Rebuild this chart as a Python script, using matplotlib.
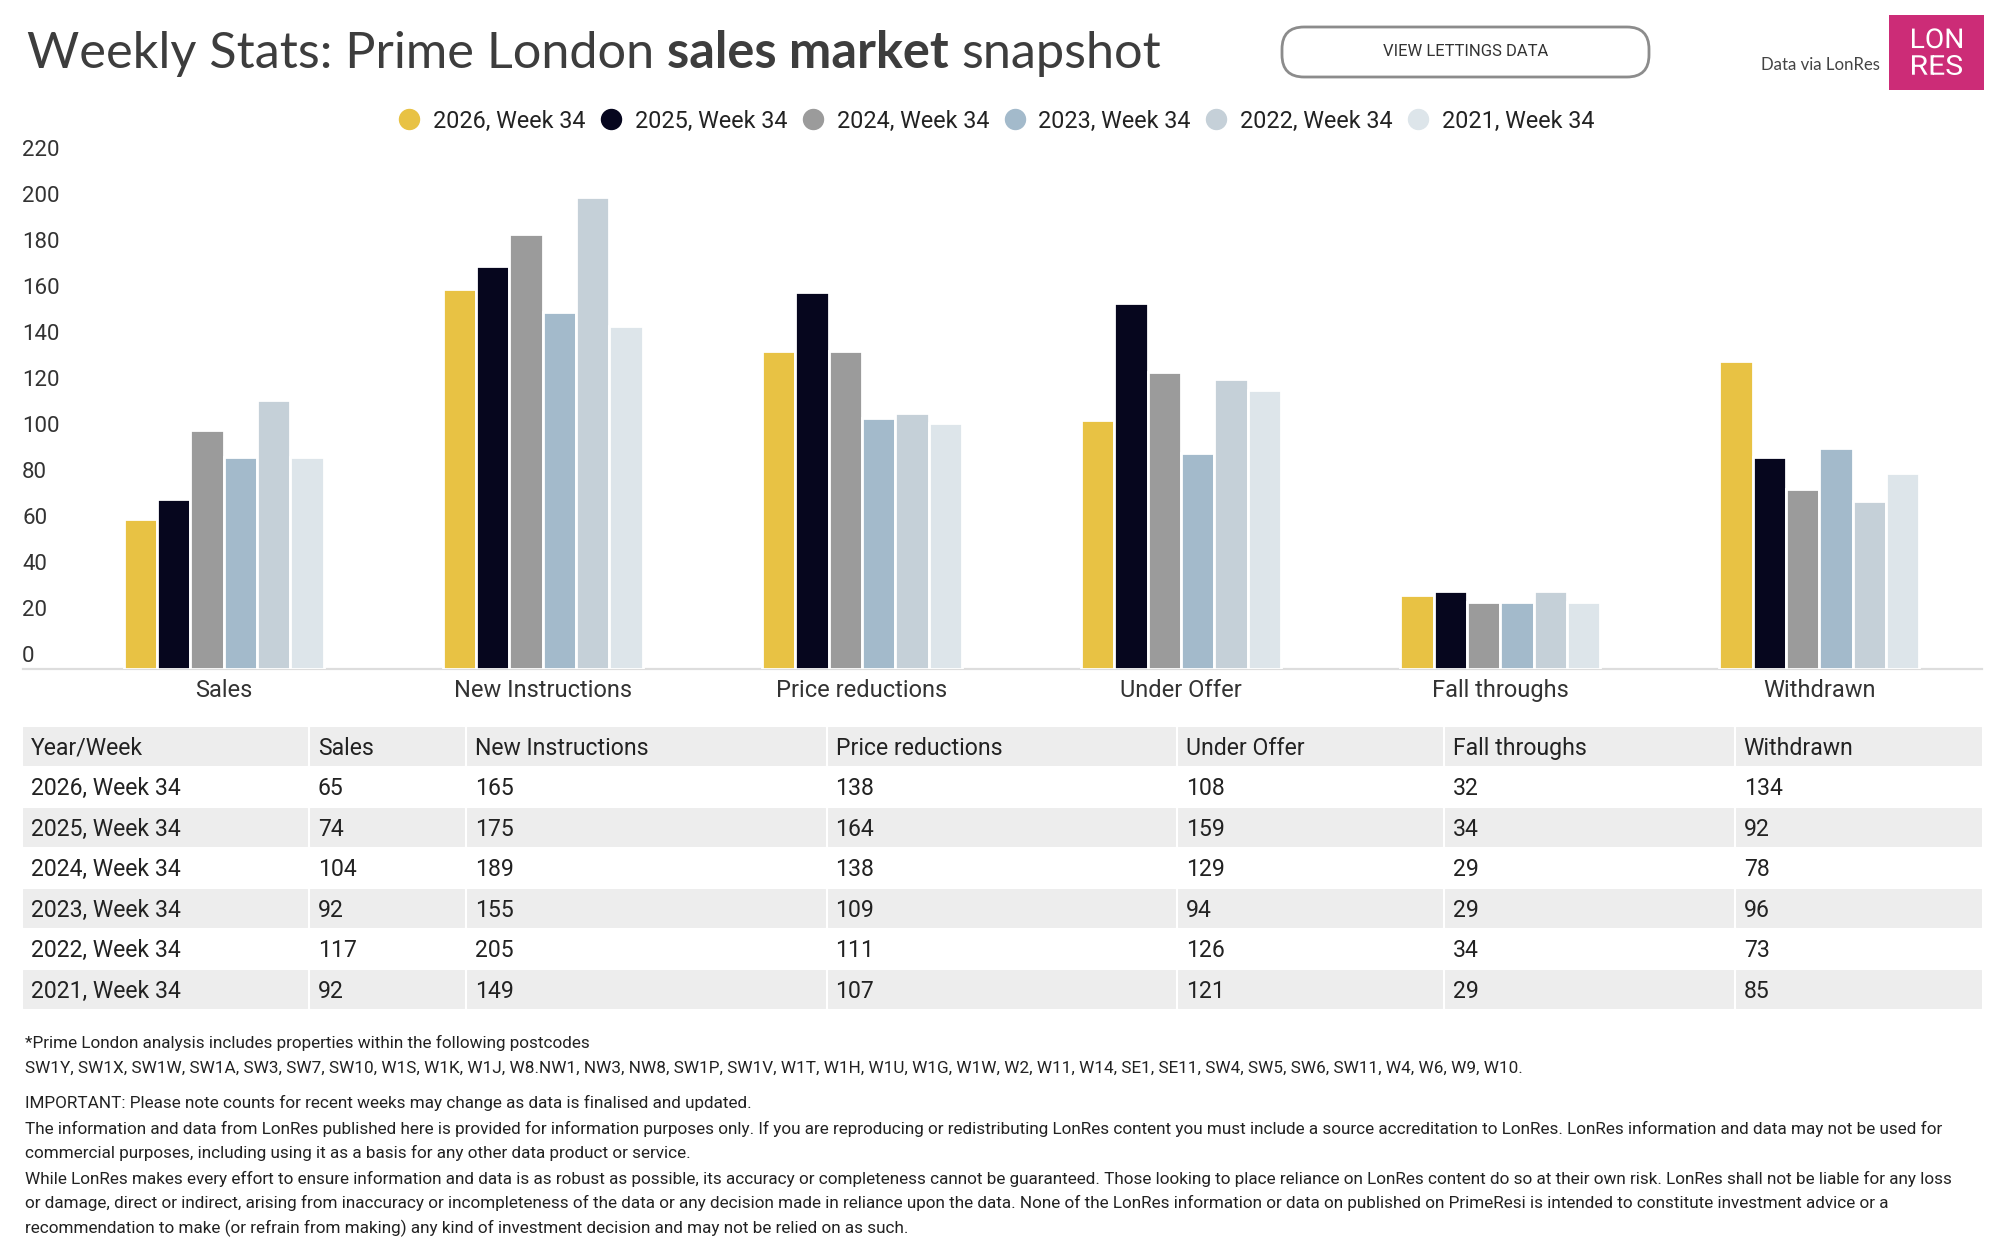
import matplotlib
matplotlib.use('Agg')
import matplotlib.pyplot as plt
import numpy as np
from matplotlib.patches import Rectangle, FancyBboxPatch, PathPatch
from matplotlib.lines import Line2D
from matplotlib.transforms import ScaledTranslation, Affine2D
from matplotlib.textpath import TextPath
from matplotlib.font_manager import FontProperties

plt.rcParams['font.family'] = ['Roboto', 'DejaVu Sans']

# data
categories = ['Sales', 'New Instructions', 'Price reductions', 'Under Offer', 'Fall throughs', 'Withdrawn']
weeks = ['2026, Week 34', '2025, Week 34', '2024, Week 34', '2023, Week 34', '2022, Week 34', '2021, Week 34']
w2026 = [65, 165, 138, 108, 32, 134]
w2025 = [74, 175, 164, 159, 34, 92]
w2024 = [104, 189, 138, 129, 29, 78]
w2023 = [92, 155, 109, 94, 29, 96]
w2022 = [117, 205, 111, 126, 34, 73]
w2021 = [92, 149, 107, 121, 29, 85]
series = [w2026, w2025, w2024, w2023, w2022, w2021]
colors = ['#E8C244', '#06061E', '#9B9B9B', '#A3BACB', '#C5D0D8', '#DDE5EA']

footnotes = [
    "*Prime London analysis includes properties within the following postcodes",
    "SW1Y, SW1X, SW1W, SW1A, SW3, SW7, SW10, W1S, W1K, W1J, W8.NW1, NW3, NW8, SW1P, SW1V, W1T, W1H, W1U, W1G, W1W, W2, W11, W14, SE1, SE11, SW4, SW5, SW6, SW11, W4, W6, W9, W10.",
    "IMPORTANT: Please note counts for recent weeks may change as data is finalised and updated.",
    "The information and data from LonRes published here is provided for information purposes only. If you are reproducing or redistributing LonRes content you must include a source accreditation to LonRes. LonRes information and data may not be used for",
    "commercial purposes, including using it as a basis for any other data product or service.",
    "While LonRes makes every effort to ensure information and data is as robust as possible, its accuracy or completeness cannot be guaranteed. Those looking to place reliance on LonRes content do so at their own risk. LonRes shall not be liable for any loss",
    "or damage, direct or indirect, arising from inaccuracy or incompleteness of the data or any decision made in reliance upon the data. None of the LonRes information or data on published on PrimeResi is intended to constitute investment advice or a",
    "recommendation to make (or refrain from making) any kind of investment decision and may not be relied on as such.",
]
foot_y = [1043, 1068, 1103, 1129, 1153, 1179, 1203, 1228]

W, H = 2000, 1244
fig = plt.figure(figsize=(20, 12.44), dpi=100)


def box(l, t, r, b):
    return [l / W, 1 - b / H, (r - l) / W, (b - t) / H]


# overlay in pixel units for the page furniture
ov = fig.add_axes([0, 0, 1, 1])
ov.set_xlim(0, W)
ov.set_ylim(H, 0)
ov.axis('off')

# chart
ax = fig.add_axes(box(64, 162.7, 1979, 668.7))
x = np.arange(len(categories))
step = 0.1044
for i, (vals, c, lab) in enumerate(zip(series, colors, weeks)):
    ax.bar(x + (i - 2.5) * step, vals, width=step, color=c, edgecolor='white', linewidth=2.0, label=lab, zorder=3)

ax.set_xlim(-0.5, 5.5)
ax.set_ylim(0, 220)
for s in ax.spines.values():
    s.set_visible(False)
ax.axhline(0, xmin=-0.0214, xmax=1.0016, color='#dddddd', lw=1.6, clip_on=False, zorder=1)
ax.set_yticks(range(0, 221, 20))
ax.set_xticks(x, categories)
ax.tick_params(axis='x', length=0, pad=7.4, labelsize=17, labelcolor='#333333')
ax.tick_params(axis='y', length=0, pad=30.2, labelsize=16, labelcolor='#333333')
for lbl in ax.get_yticklabels():
    lbl.set_ha('left')
    lbl.set_va('baseline')
    lbl.set_transform(lbl.get_transform() + ScaledTranslation(0, 0.07, fig.dpi_scale_trans))

# legend with round markers
handles = [Line2D([], [], marker='o', ls='', markersize=14.4, markerfacecolor=c, markeredgecolor=c) for c in colors]
fig.legend(handles, weeks, loc='center', bbox_to_anchor=(997 / W, 1 - 121 / H), ncol=6, frameon=False,
           fontsize=16.8, handlelength=0.85, handletextpad=0.6, columnspacing=0.66, borderpad=0,
           labelcolor='#222222')

# title in three parts
renderer = fig.canvas.get_renderer()
tkw = dict(family=['Lato', 'DejaVu Sans'], fontsize=36.4, color='#3d3d3d', va='baseline')
probe_a = ov.text(0, -500, 'x x', **tkw)
probe_b = ov.text(0, -500, 'xx', **tkw)
space = probe_a.get_window_extent(renderer).width - probe_b.get_window_extent(renderer).width
probe_a.remove()
probe_b.remove()
tx = 27
for part, wt in [('Weekly Stats: Prime London', 'normal'), ('sales market', 'bold'), ('snapshot', 'normal')]:
    t = ov.text(tx, 68, part, fontweight=wt, **tkw)
    tx += t.get_window_extent(renderer).width + space

# lettings button
ov.add_patch(FancyBboxPatch((1282, 27), 367, 50, boxstyle='round,pad=0,rounding_size=22',
                            fc='white', ec='#8c8c8c', lw=2))
ov.text(1465.5, 52, 'VIEW LETTINGS DATA', ha='center', va='center', fontsize=12, color='#333333')

# source + logo
ov.text(1880, 65, 'Data via LonRes', ha='right', va='center', family=['Lato', 'DejaVu Sans'],
        fontsize=12.1, color='#444444')
ov.add_patch(Rectangle((1889, 15), 95.3, 75, fc='#CC2C77', ec='none'))
logo_font = FontProperties(family='Roboto')
for word, cy in [('LON', 38.3), ('RES', 65.0)]:
    tp = TextPath((0, 0), word, size=30, prop=logo_font)
    ext = tp.get_extents()
    sx, sy = 50 / ext.width, 20 / ext.height
    tr = (Affine2D().translate(-(ext.x0 + ext.width / 2), -(ext.y0 + ext.height / 2))
          .scale(sx, -sy).translate(1937, cy))
    ov.add_patch(PathPatch(tr.transform_path(tp), fc='white', ec='none'))

# table
col_edges = [22.3, 308.7, 465.6, 826.5, 1177.3, 1443.9, 1734.7, 1983.3]
row_top = 726
row_h = 40.5
table_rows = [['Year/Week'] + categories] + [[wk] + [str(v) for v in vals] for wk, vals in zip(weeks, series)]
for r, cells in enumerate(table_rows):
    top = row_top + r * row_h
    fill = '#EDEDED' if r % 2 == 0 else 'white'
    for c, txt in enumerate(cells):
        l, rr = col_edges[c], col_edges[c + 1]
        ov.add_patch(Rectangle((l, top), rr - l, row_h, fc=fill, ec='white', lw=1.5))
        ov.text(l + 9, top + row_h / 2 + 8.3, txt, va='baseline', fontsize=16.6, color='#222222')

# footnotes
for s, y in zip(footnotes, foot_y):
    ov.text(25, y, s, va='center', fontsize=12.35, color='#222222')

fig.savefig('out.png', dpi=100)
